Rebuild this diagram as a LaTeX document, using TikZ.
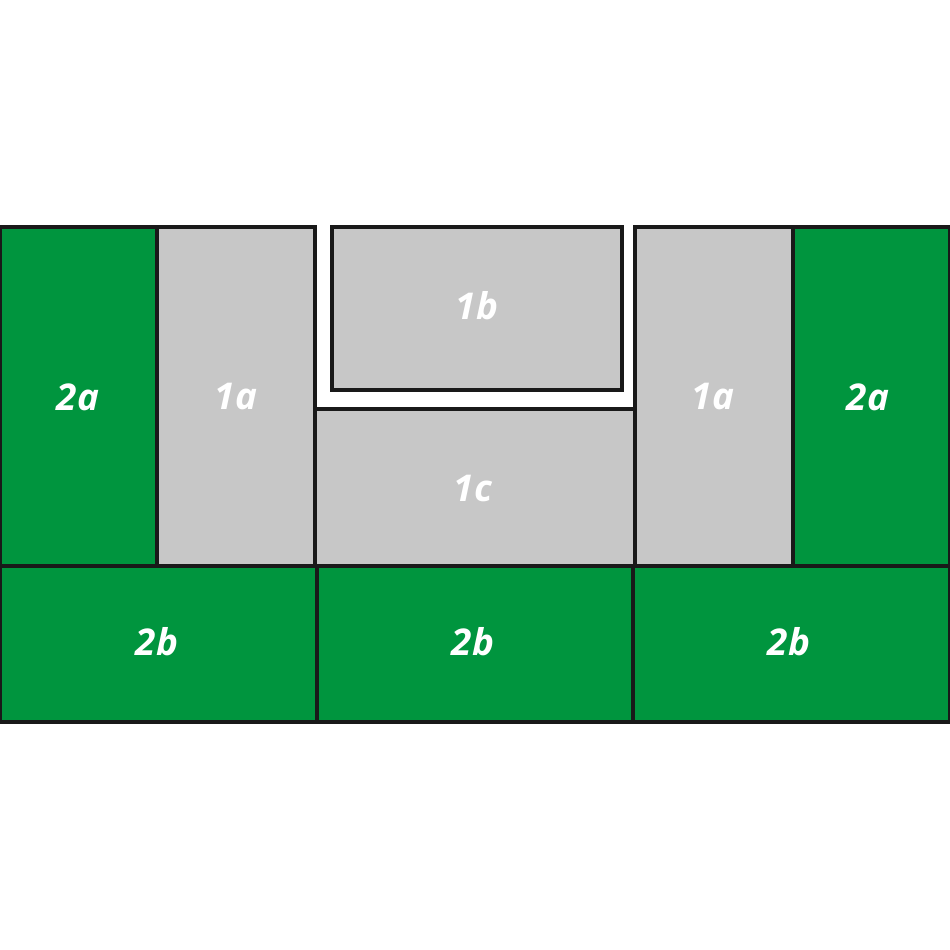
\documentclass[tikz,border=0pt]{standalone}
\usepackage{fontspec}
\setsansfont{Open Sans}
\definecolor{fieldgreen}{RGB}{0,149,62}
\definecolor{fieldgray}{RGB}{199,199,199}
\tikzset{
  grn/.style ={draw=black!90, fill=fieldgreen, line width=1.9pt},
  gry/.style ={draw=black!90, fill=fieldgray, line width=1.9pt},
  lbl/.style ={text=white, inner sep=0pt, font=\sffamily\bfseries\itshape\fontsize{21}{25}\selectfont}
}
\begin{document}
\begin{tikzpicture}[x=0.02cm, y=-0.02cm]
\useasboundingbox (0,0) rectangle (950,950);
% top row
\path[grn] (0,227) rectangle (157,566);
\path[gry] (157,227) rectangle (315,566);
\path[gry] (332,227) rectangle (622,390);
\path[gry] (315,409) rectangle (635,566);
\path[gry] (635,227) rectangle (793,566);
\path[grn] (793,227) rectangle (950,566);
% bottom row
\path[grn] (0,566) rectangle (317,722);
\path[grn] (317,566) rectangle (633,722);
\path[grn] (633,566) rectangle (950,722);
% labels
\node[lbl] (twoaL)  at (78,397)  {2a};
\node[lbl] (oneaL)  at (236,397) {1a};
\node[lbl] (oneb)   at (477,306) {1b};
\node[lbl] (onec)   at (473,489) {1c};
\node[lbl] (oneaR)  at (713,397) {1a};
\node[lbl] (twoaR)  at (868,397) {2a};
\node[lbl] (twobL)  at (157,642) {2b};
\node[lbl] (twobM)  at (473,642) {2b};
\node[lbl] (twobR)  at (789,642) {2b};
\end{tikzpicture}
\end{document}
